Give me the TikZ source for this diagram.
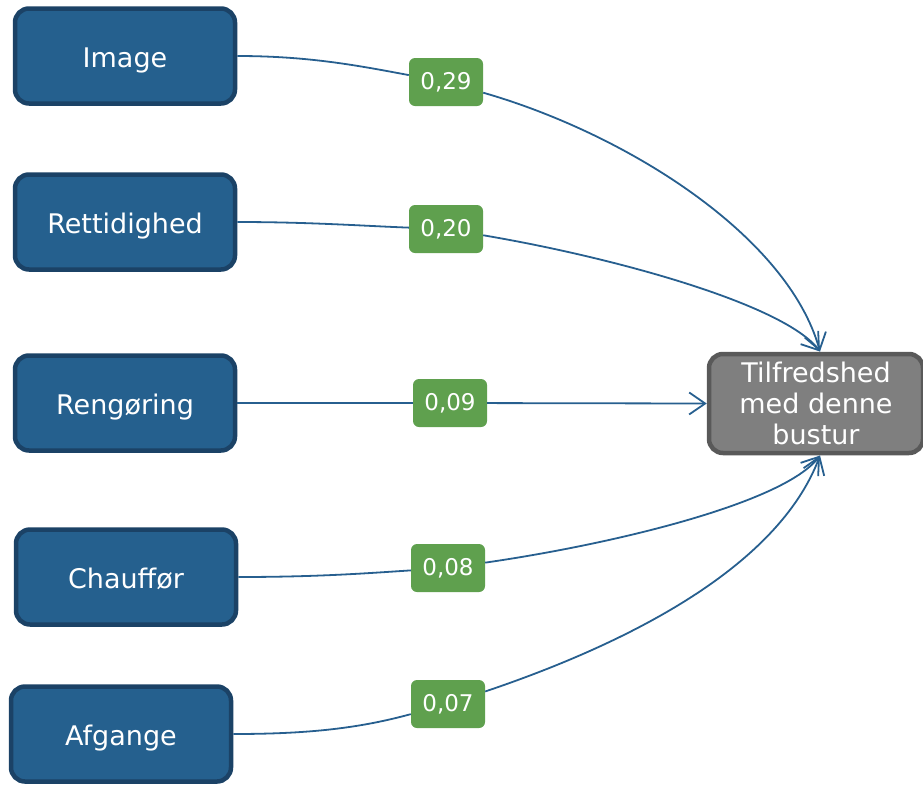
\documentclass[tikz,border=0pt]{standalone}
\usepackage{fontspec}
\setmainfont{DejaVu Sans}
\usetikzlibrary{arrows.meta}
\definecolor{boxblue}{HTML}{25608E}
\definecolor{boxedge}{HTML}{1B4266}
\definecolor{linkblue}{HTML}{275F8F}
\definecolor{wgreen}{HTML}{5FA04E}
\definecolor{tgray}{HTML}{7F7F7F}
\definecolor{tedge}{HTML}{595959}
\begin{document}
\begin{tikzpicture}[x=1pt,y=1pt,
 srcbox/.style={draw=boxedge, fill=boxblue, line width=4.5pt, rounded corners=14pt,
   minimum width=220pt, minimum height=95pt, text=white,
   text height=23pt, text depth=0pt,
   font=\fontsize{27}{31}\selectfont, inner sep=0pt},
 tgtbox/.style={draw=tedge, fill=tgray, line width=4.5pt, rounded corners=14pt,
   minimum width=214pt, minimum height=99pt, text=white, align=center,
   font=\fontsize{27}{31}\selectfont, inner sep=0pt},
 wlabel/.style={fill=wgreen, rounded corners=6pt, minimum width=74pt,
   minimum height=48pt, text=white, font=\fontsize{23}{27}\selectfont, inner sep=0pt},
 plainlink/.style={draw=linkblue, line width=1.8pt},
 arrowlink/.style={plainlink, -{Straight Barb[length=16pt,width=22pt]}}
]
\useasboundingbox (0,0) rectangle (923,-785);

\node[srcbox] (img) at (125,-56) {Image};
\node[srcbox] (ret) at (125,-222) {Rettidighed};
\node[srcbox] (ren) at (125,-403) {Rengøring};
\node[srcbox] (cha) at (126,-577) {Chauffør};
\node[srcbox] (afg) at (121,-734) {Afgange};

\node[tgtbox] (tgt) at (816,-403.5) {Tilfredshed\\med denne\\bustur};
\coordinate (tn) at (820,-351.5);
\coordinate (ts) at (820,-455.5);

\node[wlabel] (l1) at (446,-82) {0,29};
\node[wlabel] (l2) at (446,-229) {0,20};
\node[wlabel] (l3) at (450,-403) {0,09};
\node[wlabel] (l4) at (448,-568) {0,08};
\node[wlabel] (l5) at (448,-704) {0,07};

\draw[plainlink] (img.east) .. controls (310,-56) and (360,-66) .. (l1);
\draw[arrowlink] (l1) .. controls (627,-134) and (788,-236) .. (tn);
\draw[plainlink] (ret.east) .. controls (310,-222) and (365,-226) .. (l2);
\draw[arrowlink] (l2) .. controls (612,-257) and (784,-304) .. (tn);
\draw[plainlink] (ren.east) -- (l3);
\draw[arrowlink] (l3) -- (tgt.west);
\draw[plainlink] (cha.east) .. controls (320,-577) and (370,-573) .. (l4);
\draw[arrowlink] (l4) .. controls (614,-544) and (784,-503) .. (ts);
\draw[plainlink] (afg.east) .. controls (310,-734) and (360,-728) .. (l5);
\draw[arrowlink] (l5) .. controls (626,-644) and (778,-568) .. (ts);
\end{tikzpicture}
\end{document}
